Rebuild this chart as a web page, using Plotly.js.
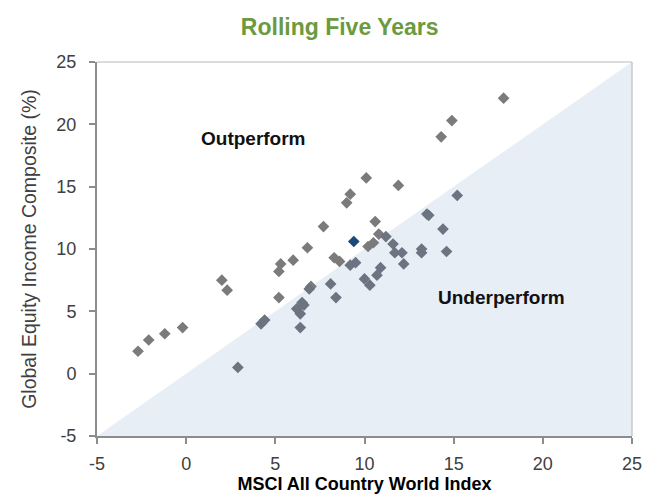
<!DOCTYPE html>
<html>
<head>
<meta charset="utf-8">
<script src="https://cdn.plot.ly/plotly-3.0.1.min.js"></script>
<style>html,body{margin:0;padding:0;background:#fff;}#chart{width:652px;height:498px;}</style>
</head>
<body>
<div id="chart"></div>
<script>
// MSCI ACWI (x) vs Global Equity Income Composite (y), rolling five-year returns (%)
const acwi = [-2.7,-2.1,-1.2,-0.2,2.0,2.3,2.9,4.2,4.4,5.2,5.2,5.3,6.0,6.8,7.7,9.0,9.2,10.1,11.9,14.3,14.9,17.8,15.2,13.5,13.6,14.4,14.6,13.2,13.2,10.6,10.2,10.5,10.8,11.2,11.6,11.7,12.1,12.2,10.9,10.7,10.0,10.3,9.2,9.5,8.3,8.6,8.1,8.4,7.0,6.9,6.5,6.2,6.4,6.6,6.4];
const composite = [1.8,2.7,3.2,3.7,7.5,6.7,0.5,4.0,4.3,6.1,8.2,8.8,9.1,10.1,11.8,13.7,14.4,15.7,15.1,19.0,20.3,22.1,14.3,12.8,12.7,11.6,9.8,10.0,9.7,12.2,10.2,10.5,11.2,11.0,10.4,9.7,9.7,8.8,8.5,7.9,7.6,7.1,8.7,8.9,9.3,9.0,7.2,6.1,7.0,6.8,5.7,5.2,4.8,5.5,3.7];
const latestX = [9.4];
const latestY = [10.6];
const axisRange = [-5, 25];
const tickVals = [-5, 0, 5, 10, 15, 20, 25];
const tickLabels = ['-5', '0', '5', '10', '15', '20', '25'];
const regionLabels = ["Outperform", "Underperform"];
const regionLabelX = [3.8, 17.7];
const regionLabelY = [18.9, 6.1];

const colors = acwi.map((x, i) => composite[i] >= x ? '#7b7b7b' : '#6b7480');

const shade = {
  x: [axisRange[0], axisRange[1], axisRange[1], axisRange[0]],
  y: [axisRange[0], axisRange[1], axisRange[0], axisRange[0]],
  mode: 'lines', fill: 'toself', fillcolor: '#e8eef5',
  line: {width: 0}, hoverinfo: 'skip', showlegend: false
};
const pts = {
  x: acwi, y: composite, mode: 'markers', type: 'scatter',
  marker: {symbol: 'diamond', size: 9, color: colors}, showlegend: false
};
const latest = {
  x: latestX, y: latestY, mode: 'markers', type: 'scatter',
  marker: {symbol: 'diamond', size: 9, color: '#1b4a7a'}, showlegend: false
};

const tickFont = {family: 'Liberation Sans, Arial, sans-serif', size: 18, color: '#404040'};
const layout = {
  width: 652, height: 498,
  margin: {l: 97, r: 20, t: 62, b: 62},
  paper_bgcolor: '#fff', plot_bgcolor: '#fff',
  title: {text: 'Rolling Five Years', x: 0.521, xanchor: 'center', y: 0.945, yanchor: 'middle',
    font: {family: 'Liberation Sans, Arial, sans-serif', size: 23, color: '#6b9a40', weight: 'bold'}},
  xaxis: {range: axisRange, tickvals: tickVals, ticktext: tickLabels, showgrid: false, zeroline: false,
    showline: true, linecolor: '#8c8c8c', linewidth: 2, ticks: 'outside', ticklen: 6, tickcolor: '#8c8c8c', tickwidth: 2,
    tickfont: tickFont, ticklabelstandoff: 4,
    title: {text: 'MSCI All Country World Index', standoff: 5,
      font: {family: 'Liberation Sans, Arial, sans-serif', size: 18, color: '#000', weight: 'bold'}}},
  yaxis: {range: axisRange, tickvals: tickVals, ticktext: tickLabels, showgrid: false, zeroline: false,
    showline: true, linecolor: '#8c8c8c', linewidth: 2, ticks: 'outside', ticklen: 6, tickcolor: '#8c8c8c', tickwidth: 2,
    tickfont: tickFont, ticklabelstandoff: 9,
    title: {text: 'Global Equity Income Composite (%)', standoff: 15,
      font: {family: 'Liberation Sans, Arial, sans-serif', size: 19.5, color: '#404040'}}},
  shapes: [
    {type: 'line', xref: 'paper', yref: 'paper', x0: 0, x1: 1, y0: 1, y1: 1, line: {color: '#d0d0d0', width: 1.5}},
    {type: 'line', xref: 'paper', yref: 'paper', x0: 1, x1: 1, y0: 0, y1: 1, line: {color: '#c8c8c8', width: 1.5}}
  ],
  annotations: regionLabels.map((t, i) => ({
    x: regionLabelX[i], y: regionLabelY[i], text: t, showarrow: false,
    font: {family: 'Liberation Sans, Arial, sans-serif', size: 19, color: '#111', weight: 'bold'}
  }))
};

Plotly.newPlot('chart', [shade, pts, latest], layout, {displayModeBar: false, staticPlot: true});
</script>
</body>
</html>
